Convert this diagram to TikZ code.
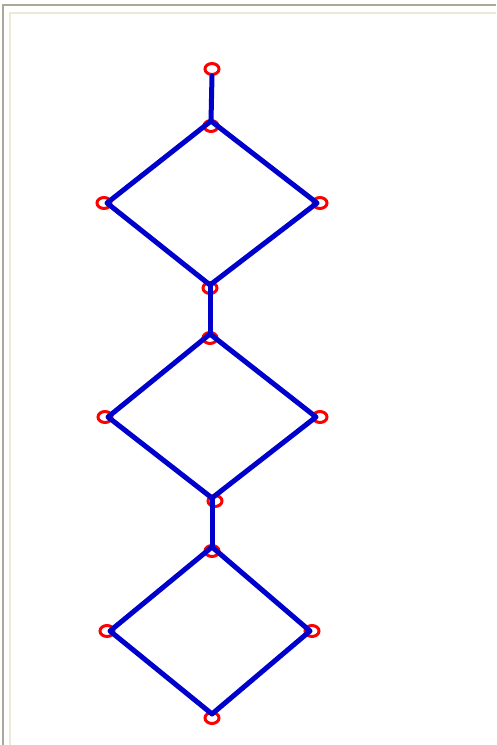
\documentclass[tikz,border=0pt]{standalone}
\usetikzlibrary{shapes.geometric}
\definecolor{frameGray}{RGB}{172,168,153}
\definecolor{frameBeige}{RGB}{236,233,216}
\definecolor{edgeBlue}{RGB}{0,0,204}
\tikzset{
  vtx/.style={ellipse,draw=red,line width=3pt,minimum width=14pt,minimum height=11pt,inner sep=0pt},
  edg/.style={draw=edgeBlue,line width=5pt,line cap=round,line join=round}
}
\begin{document}
\begin{tikzpicture}[x=1pt,y=-1pt]
\useasboundingbox (0,0) rectangle (496,745);
\fill[white] (0,0) rectangle (496,745);
% window frame
\draw[frameGray,line width=2pt] (3,745) -- (3,5) -- (496,5);
\draw[frameBeige,line width=2pt] (10,745) -- (10,13) -- (496,13);
% circles
\node[vtx] (c0) at (212,69) {};
\node[vtx] (c1t) at (211,126) {};
\node[vtx] (c1l) at (104,203) {};
\node[vtx] (c1r) at (320,203) {};
\node[vtx] (c1b) at (210,288) {};
\node[vtx] (c2t) at (210,338) {};
\node[vtx] (c2l) at (105,417) {};
\node[vtx] (c2r) at (320,417) {};
\node[vtx] (c2b) at (215,501) {};
\node[vtx] (c3t) at (212,551) {};
\node[vtx] (c3l) at (107,631) {};
\node[vtx] (c3r) at (312,631) {};
\node[vtx] (c3b) at (212,718) {};
% line vertices
\coordinate (v1t) at (211,121);
\coordinate (v1l) at (107,203);
\coordinate (v1r) at (317,203);
\coordinate (v1b) at (210,285);
\coordinate (v2t) at (210,334);
\coordinate (v2l) at (108,417);
\coordinate (v2r) at (316,417);
\coordinate (v2b) at (212,498);
\coordinate (v3t) at (212,547);
\coordinate (v3l) at (110,631);
\coordinate (v3r) at (310,631);
\coordinate (v3b) at (212,714);
% edges
\draw[edg] (c0.south) -- (v1t);
\draw[edg] (v1t) -- (v1l) -- (v1b) -- (v1r) -- cycle;
\draw[edg] (v1b) -- (v2t);
\draw[edg] (v2t) -- (v2l) -- (v2b) -- (v2r) -- cycle;
\draw[edg] (v2b) -- (v3t);
\draw[edg] (v3t) -- (v3l) -- (v3b) -- (v3r) -- cycle;
\end{tikzpicture}
\end{document}
